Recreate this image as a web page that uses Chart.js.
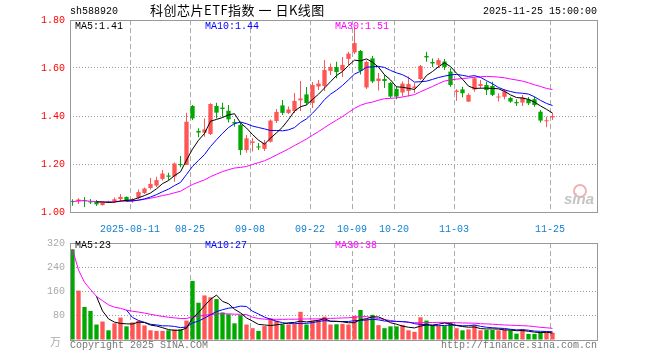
<!DOCTYPE html>
<html>
<head>
<meta charset="utf-8">
<script src="https://cdn.jsdelivr.net/npm/chart.js"></script>
<style>
body { margin: 0; background: #fff; }
#wrap { position: relative; width: 660px; height: 360px; overflow: hidden; font-family: "Liberation Mono", monospace; font-size: 10px; }
#wrap canvas { position: absolute; left: 0; }
.t { position: absolute; white-space: pre; line-height: 12px; }
</style>
</head>
<body>
<div id="wrap">
  <canvas id="kline" width="660" height="232" style="top:0"></canvas>
  <canvas id="vol" width="660" height="128" style="top:232px"></canvas>

  <div class="t" style="left:70px;top:6px;color:#000">sh588920</div>
  <div class="t" style="left:150px;top:2px;font:13px 'Noto Sans CJK SC';line-height:16px;letter-spacing:0.5px;color:#000">科创芯片ETF指数 一 日K线图</div>
  <div class="t" style="left:483px;top:6px;color:#000">2025-11-25 15:00:00</div>

  <div class="t" id="ma5" style="left:75px;top:21px;color:#000"></div>
  <div class="t" id="ma10" style="left:205px;top:21px;color:#0000ff"></div>
  <div class="t" id="ma30" style="left:335px;top:21px;color:#ff00ff"></div>

  <div class="t" id="vma5" style="left:75px;top:240px;color:#000"></div>
  <div class="t" id="vma10" style="left:205px;top:240px;color:#0000ff"></div>
  <div class="t" id="vma30" style="left:335px;top:240px;color:#ff00ff"></div>

  <div class="t" style="left:50px;top:333px;font:11px 'Noto Sans CJK SC';color:#aaa">万</div>
  <div class="t" style="left:70px;top:340px;color:#777">Copyright 2025 SINA.COM</div>
  <div class="t" style="left:441px;top:340px;color:#777">http://finance.sina.com.cn</div>

  <!-- sina watermark -->
  <div style="position:absolute;left:573px;top:184px;width:10px;height:10px;border:2px solid #f3b0b0;border-radius:50%"></div>
  <div class="t" style="left:564px;top:190px;font:bold italic 15px 'Liberation Sans';color:#c4c4c4">sina</div>
</div>

<script>
// Trading days
const dates = [
    "07-28","07-29","07-30","07-31","08-01","08-04","08-05","08-06","08-07","08-08",
    "08-11","08-12","08-13","08-14","08-15","08-18","08-19","08-20","08-21","08-22",
    "08-25","08-26","08-27","08-28","08-29","09-01","09-02","09-03","09-04","09-05",
    "09-08","09-09","09-10","09-11","09-12","09-15","09-16","09-17","09-18","09-19",
    "09-22","09-23","09-24","09-25","09-26","09-29","09-30",
    "10-09","10-10","10-13","10-14","10-15","10-16","10-17",
    "10-20","10-21","10-22","10-23","10-24","10-27","10-28","10-29","10-30","10-31",
    "11-03","11-04","11-05","11-06","11-07","11-10","11-11","11-12","11-13","11-14",
    "11-17","11-18","11-19","11-20","11-21","11-24","11-25"
];

const openP = [
    1.046,1.044,1.050,1.044,1.043,1.029,1.043,1.045,1.054,1.063,
    1.046,1.060,1.079,1.100,1.110,1.138,1.152,1.148,1.200,1.196,
    1.442,1.338,1.331,1.325,1.442,1.435,1.422,1.375,1.363,1.258,
    1.288,1.273,1.263,1.293,1.379,1.444,1.413,1.421,1.465,1.490,
    1.454,1.523,1.525,1.588,1.604,1.590,1.638,
    1.665,1.671,1.519,1.640,1.546,1.554,1.538,
    1.513,1.498,1.504,1.517,1.554,1.650,1.625,1.613,1.627,1.585,
    1.500,1.511,1.460,1.510,1.525,1.529,1.525,1.477,1.480,1.475,
    1.458,1.456,1.469,1.470,1.418,1.378,1.394
];
const highP = [
    1.053,1.057,1.062,1.054,1.050,1.042,1.047,1.060,1.075,1.065,
    1.057,1.094,1.102,1.142,1.147,1.175,1.164,1.206,1.233,1.414,
    1.446,1.349,1.390,1.453,1.455,1.455,1.446,1.388,1.371,1.321,
    1.308,1.288,1.300,1.385,1.429,1.467,1.440,1.496,1.546,1.521,
    1.542,1.550,1.633,1.619,1.626,1.646,1.668,
    1.771,1.675,1.631,1.650,1.579,1.571,1.542,
    1.522,1.544,1.565,1.538,1.613,1.668,1.640,1.642,1.638,1.599,
    1.511,1.522,1.495,1.564,1.550,1.543,1.543,1.495,1.511,1.480,
    1.470,1.488,1.479,1.480,1.425,1.397,1.411
];
const lowP = [
    1.026,1.033,1.021,1.033,1.025,1.027,1.038,1.038,1.042,1.042,
    1.039,1.054,1.075,1.094,1.104,1.131,1.133,1.126,1.186,1.196,
    1.383,1.311,1.314,1.321,1.390,1.397,1.373,1.355,1.238,1.247,
    1.252,1.258,1.254,1.290,1.371,1.404,1.408,1.413,1.421,1.446,
    1.433,1.508,1.504,1.571,1.557,1.563,1.613,
    1.658,1.573,1.513,1.538,1.506,1.517,1.475,
    1.470,1.481,1.481,1.496,1.550,1.626,1.604,1.600,1.592,1.522,
    1.464,1.478,1.458,1.501,1.515,1.488,1.483,1.460,1.470,1.455,
    1.442,1.442,1.446,1.439,1.373,1.353,1.383
];
const closeP = [
    1.042,1.052,1.046,1.040,1.032,1.040,1.040,1.053,1.063,1.046,
    1.052,1.083,1.098,1.117,1.133,1.160,1.147,1.202,1.195,1.376,
    1.390,1.331,1.344,1.450,1.414,1.429,1.386,1.369,1.258,1.307,
    1.294,1.269,1.288,1.381,1.417,1.413,1.427,1.463,1.473,1.454,
    1.529,1.535,1.592,1.604,1.583,1.613,1.660,
    1.704,1.588,1.625,1.544,1.556,1.546,1.481,
    1.481,1.535,1.533,1.523,1.608,1.644,1.619,1.633,1.604,1.529,
    1.506,1.495,1.488,1.557,1.533,1.508,1.488,1.481,1.503,1.460,
    1.453,1.477,1.453,1.446,1.381,1.382,1.400
];

// volume, unit: 万
const volume = [
    299,163,109,96,51,61,32,55,74,45,
    58,63,48,32,30,30,32,35,35,64,
    195,123,147,141,135,91,85,55,82,51,
    39,30,46,72,64,51,51,52,93,51,
    64,66,77,51,52,53,51,
    80,99,69,83,49,39,45,
    45,50,32,27,75,64,49,46,46,59,
    39,32,35,50,32,33,33,32,35,32,
    21,36,20,20,26,25,24
];

const tickLabels = ["2025-08-11","08-25","09-08","09-22","10-09","10-20","11-03","11-25"];

// layout: candle i sits 6px apart, first at 72.5px, plot is 527px wide
const X_MIN = -2.5 / 6;
const X_MAX = X_MIN + 527 / 6;
const monoFont = { family: "Liberation Mono", size: 10 };
const upColor = "#ff5555";
const downColor = "#00a800";

const tickIndex = tickLabels.map(t => dates.indexOf(t.slice(-5)));
const candleColors = closeP.map((c, i) => (c >= openP[i] ? upColor : downColor));

// moving average; MA30 is shown from the first day as a running mean
const movingAvg = (arr, n, fromStart) => arr.map((v, i) => {
    if (i < n - 1 && !fromStart) return null;
    const part = arr.slice(Math.max(0, i - n + 1), i + 1);
    return part.reduce((a, b) => a + b, 0) / part.length;
});

const toPoints = arr => arr.map((v, i) => ({ x: i, y: v }));

const maLines = arr => [
    { color: "#000000", data: movingAvg(arr, 5, false) },
    { color: "#0000ff", data: movingAvg(arr, 10, false) },
    { color: "#ff00ff", data: movingAvg(arr, 30, true) },
].map(m => ({
    type: "line",
    data: toPoints(m.data),
    borderColor: m.color,
    borderWidth: 1,
    pointRadius: 0,
    tension: 0,
    order: 1,
}));

// Frame and dashed date lines, placed with the x scale
const framePlugin = {
    id: "frame",
    beforeDatasetsDraw: chart => {
        const { ctx, chartArea: a, scales } = chart;
        ctx.save();
        ctx.strokeStyle = "#aaa";
        ctx.lineWidth = 1;
        ctx.setLineDash([5, 3]);
        scales.x.ticks.forEach(t => {
            const px = Math.round(scales.x.getPixelForValue(t.value)) + 0.5;
            ctx.beginPath();
            ctx.moveTo(px, a.top);
            ctx.lineTo(px, a.bottom);
            ctx.stroke();
        });
        ctx.restore();
    },
    afterDraw: chart => {
        const { ctx, chartArea: a } = chart;
        ctx.save();
        ctx.strokeStyle = "#999";
        ctx.lineWidth = 1;
        ctx.strokeRect(a.left + 0.5, a.top + 0.5, a.right - a.left, a.bottom - a.top);
        ctx.restore();
    },
};

const xScale = showLabels => ({
    type: "linear",
    min: X_MIN,
    max: X_MAX,
    offset: false,
    afterBuildTicks: axis => {
        axis.ticks = tickIndex.map(i => ({ value: i - 2.5 / 6 }));
    },
    afterFit: axis => { axis.height = 20; },
    grid: { display: false, offset: false },
    border: { display: false },
    ticks: {
        autoSkip: false,
        maxRotation: 0,
        padding: 3,
        color: "#1380d0",
        font: monoFont,
        callback: (v, i) => (showLabels ? tickLabels[i] : ""),
    },
});

const yScale = (min, max, step, color, fmt) => ({
    type: "linear",
    min: min,
    max: max,
    afterFit: axis => { axis.width = 70; },
    grid: {
        drawTicks: false,
        color: ctx => {
            const v = ctx.tick.value;
            return Math.abs(v - min) < 1e-6 || Math.abs(v - max) < 1e-6 ? "rgba(0,0,0,0)" : "#999";
        },
    },
    border: { display: false, dash: [1, 2] },
    ticks: { stepSize: step, padding: 5, color: color, font: monoFont, callback: fmt },
});

const baseOptions = (pad, yOpts, showX) => ({
    responsive: false,
    animation: false,
    layout: { padding: pad },
    plugins: { legend: { display: false }, tooltip: { enabled: false } },
    scales: { x: xScale(showX), y: yOpts },
});

// K line
new Chart(document.getElementById("kline"), {
    type: "bar",
    data: {
        datasets: [
            {
                data: dates.map((d, i) => ({ x: i, y: [lowP[i], highP[i]] })),
                backgroundColor: candleColors,
                grouped: false,
                maxBarThickness: 1,
                order: 3,
            },
            {
                data: dates.map((d, i) => ({ x: i, y: [openP[i], closeP[i]] })),
                backgroundColor: candleColors,
                grouped: false,
                maxBarThickness: 5,
                minBarLength: 1,
                order: 2,
            },
            ...maLines(closeP),
        ],
    },
    options: baseOptions(
        { left: 0, right: 63, top: 20, bottom: 0 },
        yScale(1.0, 1.8, 0.2, "#ff0000", v => v.toFixed(2)),
        true
    ),
    plugins: [framePlugin],
});

// Volume
new Chart(document.getElementById("vol"), {
    type: "bar",
    data: {
        datasets: [
            {
                data: toPoints(volume),
                backgroundColor: candleColors,
                grouped: false,
                maxBarThickness: 5,
                order: 2,
            },
            ...maLines(volume),
        ],
    },
    options: baseOptions(
        { left: 0, right: 63, top: 8, bottom: 0 },
        yScale(0, 320, 80, "#aaa", v => (v === 0 ? "" : v)),
        false
    ),
    plugins: [framePlugin],
});

// Legend values
const last = arr => arr[arr.length - 1];
document.getElementById("ma5").textContent = "MA5:" + last(movingAvg(closeP, 5)).toFixed(2);
document.getElementById("ma10").textContent = "MA10:" + last(movingAvg(closeP, 10)).toFixed(2);
document.getElementById("ma30").textContent = "MA30:" + last(movingAvg(closeP, 30)).toFixed(2);
document.getElementById("vma5").textContent = "MA5:" + Math.round(last(movingAvg(volume, 5)));
document.getElementById("vma10").textContent = "MA10:" + Math.round(last(movingAvg(volume, 10)));
document.getElementById("vma30").textContent = "MA30:" + Math.round(last(movingAvg(volume, 30)));
</script>
</body>
</html>
